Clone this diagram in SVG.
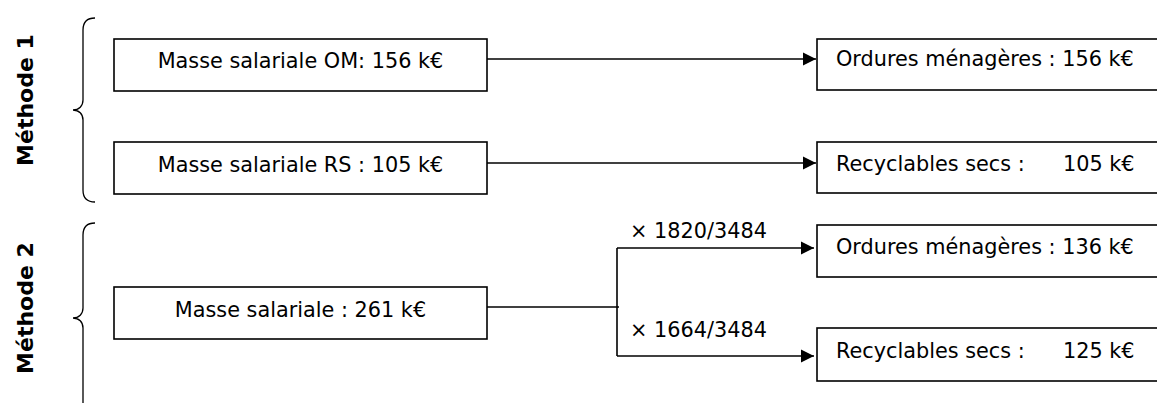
<svg xmlns="http://www.w3.org/2000/svg" width="1157" height="403" viewBox="0 0 1157 403">
<style>
.box{fill:#fff;stroke:#000;stroke-width:1.6}
.t{font-family:"DejaVu Sans",Verdana,sans-serif;font-size:20.8px;fill:#000}
.m{font-family:"DejaVu Sans",Verdana,sans-serif;font-size:22px;font-weight:bold;fill:#000}
.ln{fill:none;stroke:#000;stroke-width:1.6}
.br{fill:none;stroke:#000;stroke-width:1.3}
</style>
<defs>
<marker id="ah" markerUnits="userSpaceOnUse" markerWidth="15" markerHeight="14" refX="13" refY="7" orient="auto">
<path d="M0,0.5 L13,7 L0,13.5 Z" fill="#000"/>
</marker>
</defs>
<rect width="1157" height="403" fill="#fff"/>
<g id="labels">
<text class="m" transform="translate(33,100) rotate(-90)" text-anchor="middle">Méthode 1</text>
<text class="m" transform="translate(33,308) rotate(-90)" text-anchor="middle">Méthode 2</text>
</g>
<g id="braces">
<path class="br" d="M95,18 C87,18 83,22 83,30 L83,100 C83,106 79,110 73,110 C79,110 83,114 83,120 L83,190 C83,198 87,202 95,202"/>
<path class="br" d="M95,223 C87,223 83,227 83,235 L83,308 C83,314 79,318 73,318 C79,318 83,322 83,328 L83,410"/>
</g>
<g id="n1"><rect class="box" x="114" y="39" width="373" height="52"/><text class="t" x="300.5" y="68" text-anchor="middle">Masse salariale OM: 156 k€</text></g>
<g id="n2"><rect class="box" x="114" y="142" width="373" height="52"/><text class="t" x="300.5" y="172" text-anchor="middle">Masse salariale RS : 105 k€</text></g>
<g id="n3"><rect class="box" x="114" y="287" width="373" height="52"/><text class="t" x="300.5" y="317" text-anchor="middle">Masse salariale : 261 k€</text></g>
<g id="n4"><rect class="box" x="817" y="39" width="345" height="51"/><text class="t" x="836" y="66">Ordures ménagères : 156 k€</text></g>
<g id="n5"><rect class="box" x="817" y="142" width="345" height="51"/><text class="t" x="836" y="171">Recyclables secs :</text><text class="t" x="1063" y="171">105 k€</text></g>
<g id="n6"><rect class="box" x="817" y="225" width="345" height="52"/><text class="t" x="836" y="254">Ordures ménagères : 136 k€</text></g>
<g id="n7"><rect class="box" x="817" y="328" width="345" height="53"/><text class="t" x="836" y="358">Recyclables secs :</text><text class="t" x="1063" y="358">125 k€</text></g>
<g id="connectors">
<path class="ln" d="M487,59 L816,59" marker-end="url(#ah)"/>
<path class="ln" d="M487,163 L816,163" marker-end="url(#ah)"/>
<path class="ln" d="M487,307 L619,307"/>
<path class="ln" d="M617,248 L617,356"/>
<path class="ln" d="M617,248 L814,248" marker-end="url(#ah)"/>
<path class="ln" d="M617,356 L814,356" marker-end="url(#ah)"/>
<text class="t" x="630" y="238">× 1820/3484</text>
<text class="t" x="630" y="337">× 1664/3484</text>
</g>
</svg>
